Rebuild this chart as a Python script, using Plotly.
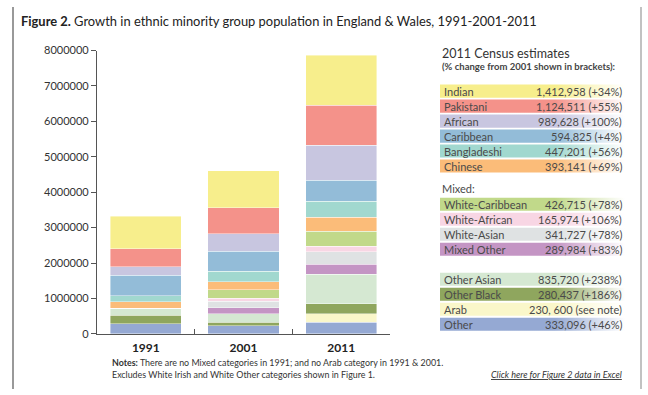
import plotly.graph_objects as go

W, H = 648, 395

categories = ["1991", "2001", "2011"]

# stacked from bottom to top
groups = ["Other", "Arab", "Other Black", "Other Asian", "Mixed Other", "White-Asian",
          "White-African", "White-Caribbean", "Chinese", "Bangladeshi", "Caribbean",
          "African", "Pakistani", "Indian"]
colors = ["#95A9D3", "#FAF7CA", "#8FA65E", "#D5E8D2", "#C495C4", "#DFE2E3",
          "#F8D6E4", "#C1D98A", "#FBBC79", "#A1D8CF", "#93BCD8",
          "#C8C6E0", "#F4928A", "#F7EE8C"]
v1991 = [280000, 0, 240000, 200000, 0, 0, 0, 0, 190000, 170000, 570000, 250000, 510000, 910000]
v2001 = [228000, 0, 98000, 247000, 158000, 192000, 81000, 240000, 233000, 287000, 572000, 495000, 725000, 1054000]
v2011 = [333096, 230600, 280437, 835720, 289984, 341727, 165974, 426715, 393141, 447201, 594825, 989628, 1124511, 1412958]

legend_groups = ["Indian", "Pakistani", "African", "Caribbean", "Bangladeshi", "Chinese",
                 "White-Caribbean", "White-African", "White-Asian", "Mixed Other",
                 "Other Asian", "Other Black", "Arab", "Other"]
legend_texts = ["1,412,958 (+34%)", "1,124,511 (+55%)", "989,628 (+100%)", "594,825 (+4%)",
                "447,201 (+56%)", "393,141 (+69%)", "426,715 (+78%)", "165,974 (+106%)",
                "341,727 (+78%)", "289,984 (+83%)", "835,720 (+238%)", "280,437 (+186%)",
                "230, 600 (see note)", "333,096 (+46%)"]
legend_rows_y = [87, 102.5, 118, 133.5, 149, 164.5, 204, 219.5, 235, 250.5, 281.5, 297, 312.5, 328]

FONT = "Lato"
fig = go.Figure()

for g, c, a, b, d in zip(groups, colors, v1991, v2001, v2011):
    fig.add_trace(go.Bar(x=categories, y=[a, b, d], name=g, marker_color=c,
                         marker_line=dict(width=0.6, color="rgba(255,255,255,0.7)"),
                         xaxis="x", yaxis="y", showlegend=False))

# legend boxes with gradient (pixel coordinate overlay axes)
color_of = dict(zip(groups, colors))
bx0, bx1, bh = 440, 625, 13.5
for g, yc in zip(legend_groups, legend_rows_y):
    c = color_of[g]
    fig.add_trace(go.Scatter(
        x=[bx0, bx1, bx1, bx0, bx0], y=[yc - bh / 2, yc - bh / 2, yc + bh / 2, yc + bh / 2, yc - bh / 2],
        mode="lines", line=dict(width=0), fill="toself",
        fillgradient=dict(type="horizontal", colorscale=[[0, c], [0.62, c], [1, "rgba(255,255,255,1)"]]),
        xaxis="x2", yaxis="y2", showlegend=False, hoverinfo="skip"))

ann = []
def txt(x, y, s, size, color="#444", anchor="left", **kw):
    ann.append(dict(x=x, y=y, xref="x2", yref="y2", text=s, showarrow=False,
                    xanchor=anchor, yanchor="middle",
                    font=dict(family=FONT, size=size, color=color), **kw))

for g, t, yc in zip(legend_groups, legend_texts, legend_rows_y):
    txt(442, yc, g, 11, "#4a4a4a")
    txt(624, yc, t, 11, "#4a4a4a", anchor="right")

txt(440, 48, "2011 Census estimates", 12.5, "#333")
txt(440, 62, "<b>(% change from 2001 shown in brackets):</b>", 9.5, "#444")
txt(440, 188, "Mixed:", 11, "#4a4a4a")

txt(19, 14, "<b>Figure 2.</b> Growth in ethnic minority group population in England &amp; Wales, 1991-2001-2011", 12.9, "#222")
txt(110, 367.5, "<b>Notes:</b> There are no Mixed categories in 1991; and no Arab category in 1991 &amp; 2001.", 8.9, "#333")
txt(110, 379.5, "Excludes White Irish and White Other categories shown in Figure 1.", 8.9, "#333")
txt(489, 379.5, "<i><u>Click here for Figure 2 data in Excel</u></i>", 9, "#333")

shapes = [
    dict(type="line", xref="x2", yref="y2", x0=13, x1=13, y0=0, y1=H, line=dict(color="#777", width=1.5)),
    dict(type="line", xref="x2", yref="y2", x0=641, x1=641, y0=0, y1=H, line=dict(color="#999", width=1.2)),
]

fig.update_layout(
    width=W, height=H, margin=dict(l=0, r=0, t=0, b=0),
    paper_bgcolor="white", plot_bgcolor="rgba(0,0,0,0)",
    barmode="stack", bargap=0.27,
    annotations=ann, shapes=shapes,
    xaxis=dict(domain=[97 / W, 390 / W], anchor="y", range=[-0.5, 2.5], type="category",
               showline=True, linecolor="#555", linewidth=1.2,
               ticks="inside", tickson="boundaries", ticklen=5, tickcolor="#555",
               showgrid=False, tickfont=dict(family=FONT, size=12, color="#222"),
               ticklabelstandoff=3,
               ticktext=["<b>1991</b>", "<b>2001</b>", "<b>2011</b>"], tickvals=categories),
    yaxis=dict(domain=[1 - 338 / H, 1 - 45 / H], anchor="x", range=[0, 8000000], dtick=1000000,
               tickformat="d", showline=True, linecolor="#555", linewidth=1.2,
               ticks="outside", ticklen=5, tickcolor="#555", showgrid=False, zeroline=False,
               tickfont=dict(family=FONT, size=11, color="#333")),
    xaxis2=dict(domain=[0, 1], anchor="y2", range=[0, W], visible=False, fixedrange=True),
    yaxis2=dict(domain=[0, 1], anchor="x2", range=[H, 0], visible=False, fixedrange=True),
)

fig.write_html("out.html")
